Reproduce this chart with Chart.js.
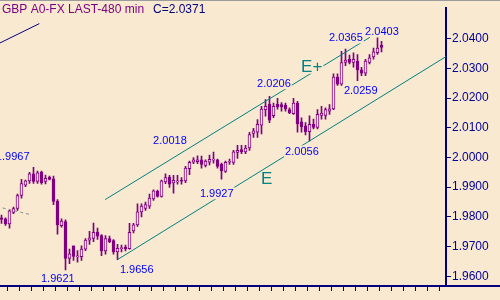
<!DOCTYPE html>
<html>
<head>
<meta charset="utf-8">
<script src="https://cdn.jsdelivr.net/npm/chart.js@4.4.1/dist/chart.umd.min.js"></script>
<style>
  html, body { margin: 0; padding: 0; background: #f8e9d0; }
  #wrap { width: 500px; height: 300px; position: relative; }
</style>
</head>
<body>
<div id="wrap"><canvas id="fx" width="500" height="300"></canvas></div>
<script>
// 480 min candles, GBP A0-FX
const opens = [1.9797,1.9793,1.9776,1.9815,1.9828,1.9872,1.9907,1.9921,1.9945,1.9919,
  1.9951,1.9919,1.9933,1.9928,1.9853,1.9770,1.9784,1.9660,1.9702,1.9665,
  1.9666,1.9691,1.9721,1.9727,1.9749,1.9737,1.9685,1.9727,1.9720,1.9682,
  1.9693,1.9698,1.9693,1.9753,1.9773,1.9817,1.9828,1.9836,1.9860,1.9886,
  1.9869,1.9918,1.9934,1.9914,1.9918,1.9921,1.9921,1.9962,1.9984,1.9986,
  1.9992,1.9973,1.9984,1.9991,1.9992,1.9977,1.9953,1.9984,1.9983,2.0017,
  2.0027,2.0019,2.0032,2.0081,2.0085,2.0109,2.0161,2.0180,2.0141,2.0180,
  2.0178,2.0176,2.0161,2.0148,2.0183,2.0120,2.0107,2.0087,2.0112,2.0101,
  2.0142,2.0142,2.0156,2.0164,2.0271,2.0247,2.0320,2.0331,2.0320,2.0325,
  2.0295,2.0284,2.0320,2.0339,2.0353,2.0378];
const highs = [1.9806,1.9797,1.9822,1.9833,1.9877,1.9926,1.9924,1.9950,1.9967,1.9954,
  1.9954,1.9941,1.9937,1.9937,1.9858,1.9793,1.9790,1.9691,1.9702,1.9686,
  1.9702,1.9727,1.9751,1.9779,1.9762,1.9740,1.9737,1.9735,1.9723,1.9707,
  1.9705,1.9705,1.9778,1.9778,1.9844,1.9844,1.9850,1.9877,1.9891,1.9890,
  1.9924,1.9945,1.9940,1.9940,1.9940,1.9932,1.9970,1.9988,2.0000,2.0006,
  2.0005,1.9992,2.0008,2.0018,1.9995,1.9981,1.9988,1.9995,2.0024,2.0041,
  2.0041,2.0041,2.0085,2.0098,2.0128,2.0172,2.0195,2.0206,2.0183,2.0199,
  2.0185,2.0183,2.0167,2.0199,2.0189,2.0134,2.0118,2.0140,2.0129,2.0161,
  2.0172,2.0167,2.0178,2.0282,2.0282,2.0358,2.0365,2.0345,2.0353,2.0347,
  2.0304,2.0331,2.0347,2.0369,2.0403,2.0391];
const lows = [1.9778,1.9771,1.9762,1.9811,1.9822,1.9863,1.9902,1.9913,1.9913,1.9913,
  1.9910,1.9911,1.9924,1.9841,1.9742,1.9765,1.9621,1.9642,1.9653,1.9647,
  1.9653,1.9686,1.9707,1.9716,1.9724,1.9669,1.9674,1.9713,1.9674,1.9656,
  1.9682,1.9685,1.9691,1.9746,1.9768,1.9800,1.9822,1.9828,1.9855,1.9866,
  1.9866,1.9912,1.9899,1.9880,1.9910,1.9910,1.9915,1.9942,1.9979,1.9979,
  1.9964,1.9968,1.9975,1.9981,1.9964,1.9927,1.9950,1.9977,1.9977,1.9997,
  2.0013,2.0013,2.0024,2.0068,2.0068,2.0079,2.0139,2.0117,2.0134,2.0163,
  2.0156,2.0156,2.0148,2.0145,2.0085,2.0085,2.0076,2.0056,2.0096,2.0096,
  2.0129,2.0129,2.0145,2.0161,2.0243,2.0243,2.0309,2.0315,2.0304,2.0259,
  2.0276,2.0276,2.0315,2.0331,2.0347,2.0356];
const closes = [1.9791,1.9776,1.9820,1.9828,1.9872,1.9912,1.9921,1.9945,1.9919,1.9948,
  1.9915,1.9930,1.9926,1.9852,1.9773,1.9786,1.9660,1.9675,1.9667,1.9667,
  1.9691,1.9722,1.9729,1.9748,1.9735,1.9685,1.9727,1.9716,1.9682,1.9694,
  1.9694,1.9692,1.9748,1.9773,1.9817,1.9836,1.9841,1.9863,1.9888,1.9869,
  1.9921,1.9932,1.9910,1.9923,1.9921,1.9920,1.9964,1.9984,1.9992,1.9992,
  1.9977,1.9988,1.9994,1.9992,1.9970,1.9956,1.9984,1.9986,2.0019,2.0024,
  2.0019,2.0032,2.0077,2.0090,2.0112,2.0163,2.0172,2.0126,2.0172,2.0170,
  2.0170,2.0164,2.0150,2.0183,2.0113,2.0104,2.0087,2.0112,2.0101,2.0145,
  2.0150,2.0161,2.0164,2.0271,2.0247,2.0320,2.0328,2.0320,2.0331,2.0295,
  2.0284,2.0325,2.0336,2.0356,2.0369,2.0371];

const yTicks = [1.96, 1.97, 1.98, 1.99, 2.00, 2.01, 2.02, 2.03, 2.04];

// trend lines as [bar index, price] end points
const channelTop = [[25.9, 1.9858], [92.1, 2.0405]];
const channelBottom = [[29, 1.9656], [111.125, 2.0340]];
const oldTrend = [[-0.375, 2.0386], [9.45, 2.0451]];
const avgLine = [[0.3, 1.9830], [7.1, 1.9808]];

// swing labels: text, bar index, price
const swingNotes = [
  ['1.9967', 7.0, 1.9991, 'right'],
  ['1.9621', 9.875, 1.9582],
  ['1.9656', 29.6, 1.9610],
  ['2.0018', 37.9, 2.0046],
  ['1.9927', 49.6, 1.9866],
  ['2.0056', 70.9, 2.0007],
  ['2.0206', 63.9, 2.0237],
  ['2.0365', 81.9, 2.0391],
  ['2.0259', 85.6, 2.0214],
  ['2.0403', 90.9, 2.0414]
];
const waveNotes = [
  ['E', 64.9, 1.9912],
  ['E+', 74.9, 2.0289]
];

const CREAM = '#f8e9d0';
const PURPLE = '#800080';
const NAVY = '#000080';
const TEAL = '#008080';
const FONT = '"Liberation Sans", Arial, sans-serif';

const toPts = arr => arr.map(p => ({ x: p[0], y: p[1] }));

const wicks = lows.map((l, i) => ({ x: i, y: [l, highs[i]] }));
const bodies = opens.map((o, i) => ({ x: i, y: [o, closes[i]] }));

const lineDs = (pts, color, dash) => ({
  type: 'line',
  data: toPts(pts),
  borderColor: color,
  borderWidth: 1,
  borderDash: dash || [],
  pointRadius: 0,
  order: 0
});

const extras = {
  id: 'extras',
  afterDatasetsDraw(chart) {
    const { ctx, scales, chartArea } = chart;
    ctx.save();
    ctx.textBaseline = 'alphabetic';
    const note = (n, font, color) => {
      ctx.font = font;
      const x = scales.x.getPixelForValue(n[1]);
      const y = scales.y.getPixelForValue(n[2]);
      const w = ctx.measureText(n[0]).width;
      const left = n[3] === 'right' ? x - w : x;
      ctx.fillStyle = CREAM;
      ctx.fillRect(left - 1, y - 10, w + 2, 12);
      ctx.fillStyle = color;
      ctx.textAlign = 'left';
      ctx.fillText(n[0], left, y);
    };
    swingNotes.forEach(n => note(n, '11px ' + FONT, '#0000ff'));
    waveNotes.forEach(n => note(n, '17px ' + FONT, TEAL));
    ctx.restore();
  },
  afterDraw(chart) {
    const { ctx, chartArea, width } = chart;
    ctx.save();
    // bottom rule runs on under the price scale
    ctx.strokeStyle = NAVY;
    ctx.lineWidth = 2;
    ctx.beginPath();
    ctx.moveTo(chartArea.right, chartArea.bottom);
    ctx.lineTo(width, chartArea.bottom);
    ctx.stroke();
    ctx.strokeStyle = '#9c9c9c';
    ctx.lineWidth = 1;
    ctx.beginPath();
    ctx.moveTo(0, 0.5);
    ctx.lineTo(width, 0.5);
    ctx.stroke();
    ctx.font = '12px ' + FONT;
    ctx.textAlign = 'left';
    ctx.fillStyle = PURPLE;
    ctx.fillText('GBP A0-FX LAST-480 min', 2, 13);
    ctx.fillStyle = NAVY;
    ctx.fillText('C=' + closes[closes.length - 1].toFixed(4), 153, 13);
    ctx.restore();
  }
};

new Chart(document.getElementById('fx'), {
  type: 'bar',
  data: {
    datasets: [
      lineDs(channelTop, TEAL),
      lineDs(channelBottom, TEAL),
      lineDs(oldTrend, NAVY),
      lineDs(avgLine, '#8c8c8c', [3, 3]),
      {
        data: bodies,
        grouped: false,
        barThickness: 3,
        minBarLength: 1,
        borderWidth: 1,
        borderSkipped: false,
        borderColor: PURPLE,
        backgroundColor: bodies.map((b, i) => closes[i] > opens[i] ? CREAM : PURPLE),
        order: 1
      },
      {
        data: wicks,
        grouped: false,
        barThickness: 1,
        borderWidth: 0,
        backgroundColor: PURPLE,
        order: 2
      }
    ]
  },
  options: {
    responsive: false,
    animation: false,
    events: [],
    layout: { padding: { top: 1, left: 0, right: 0, bottom: 0 } },
    plugins: { legend: { display: false }, tooltip: { enabled: false } },
    scales: {
      x: {
        type: 'linear',
        min: -0.375,
        max: 111.125,
        offset: false,
        afterBuildTicks: s => { s.ticks = []; for (let i = 0; i <= 108; i += 3) s.ticks.push({ value: i }); },
        afterFit: s => { s.height = 14; },
        ticks: { display: false },
        grid: { drawOnChartArea: false, drawTicks: true, tickLength: 5, color: NAVY, lineWidth: 1 },
        border: { color: NAVY, width: 2 }
      },
      y: {
        position: 'right',
        min: 1.9567,
        max: 2.0503,
        afterBuildTicks: s => { s.ticks = yTicks.map(v => ({ value: v })); },
        afterFit: s => { s.width = 54; },
        ticks: {
          color: '#000099',
          padding: 1,
          font: { family: FONT, size: 12 },
          callback: v => v.toFixed(4)
        },
        grid: { drawOnChartArea: false, drawTicks: true, tickLength: 5, color: NAVY, lineWidth: 1 },
        border: { color: NAVY, width: 2 }
      }
    }
  },
  plugins: [extras]
});
</script>
</body>
</html>
